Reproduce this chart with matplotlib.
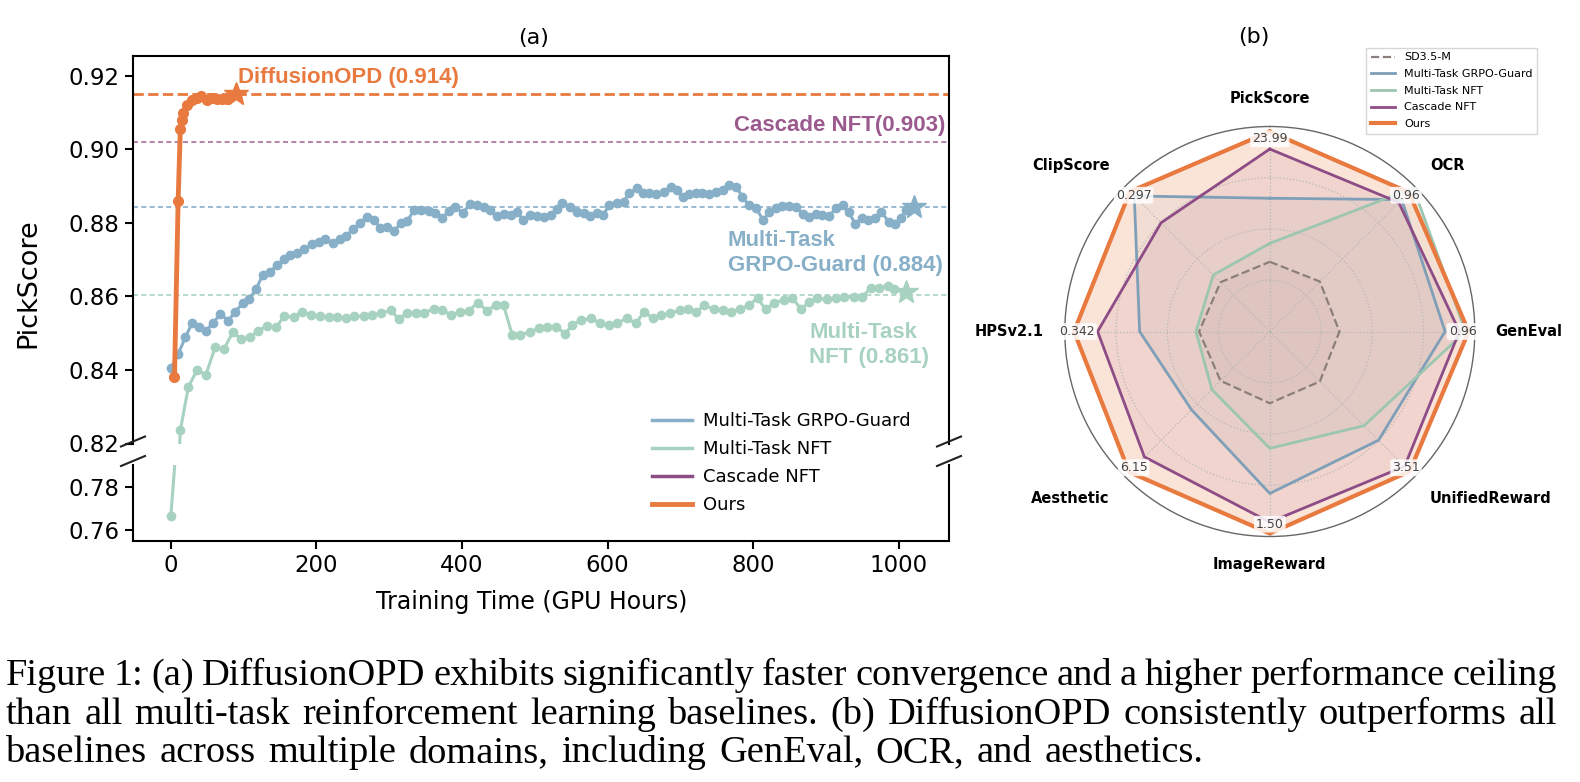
import numpy as np
import matplotlib
matplotlib.use("Agg")
import matplotlib.pyplot as plt
from matplotlib.lines import Line2D

W, H = 1580, 782

# ---------------- (a) PickScore vs training time ----------------
ours_x = [5, 10, 13, 15, 17, 22, 29, 36, 42, 49, 56, 63, 70, 77]
ours_y = [0.838, 0.886, 0.9055, 0.908, 0.910, 0.912, 0.9134, 0.914, 0.9145,
          0.9135, 0.914, 0.9138, 0.9136, 0.9138]
ours_star = (90, 0.9149)

grpo_x = [0, 10, 20, 29, 38, 48, 58, 68, 79, 88,
          99, 107, 117, 126, 136, 146, 156, 164, 173, 183,
          194, 203, 212, 223, 232, 241, 250, 260, 269, 279,
          288, 297, 307, 316, 325, 334, 344, 354, 363, 373,
          382, 391, 401, 411, 421, 430, 439, 448, 457, 467,
          476, 484, 494, 503, 512, 522, 530, 538, 549, 558,
          567, 576, 586, 594, 602, 613, 622, 629, 640, 648,
          657, 666, 677, 687, 696, 704, 712, 721, 730, 739,
          749, 758, 767, 777, 785, 794, 804, 814, 822, 831,
          840, 849, 859, 868, 877, 886, 895, 904, 914, 923,
          931, 940, 949, 958, 967, 976, 986, 995, 1003, 1010]
grpo_y = [0.8404, 0.8443, 0.8489, 0.8527, 0.8516, 0.8506, 0.8528, 0.8552, 0.8534, 0.8558,
          0.8581, 0.8592, 0.8619, 0.8658, 0.8667, 0.8685, 0.8703, 0.8712, 0.8717, 0.8728,
          0.8742, 0.8748, 0.8755, 0.8744, 0.8755, 0.8764, 0.8782, 0.8800, 0.8816, 0.8809,
          0.8785, 0.8789, 0.8778, 0.8800, 0.8805, 0.8835, 0.8836, 0.8833, 0.8826, 0.8812,
          0.8833, 0.8844, 0.8827, 0.8851, 0.8848, 0.8842, 0.8835, 0.8818, 0.8825, 0.8821,
          0.8830, 0.8807, 0.8820, 0.8818, 0.8815, 0.8821, 0.8838, 0.8853, 0.8844, 0.8830,
          0.8827, 0.8819, 0.8826, 0.8821, 0.8848, 0.8853, 0.8857, 0.8880, 0.8894, 0.8882,
          0.8880, 0.8878, 0.8884, 0.8898, 0.8889, 0.8869, 0.8878, 0.8882, 0.8880, 0.8878,
          0.8884, 0.8889, 0.8903, 0.8898, 0.8871, 0.8848, 0.8839, 0.8807, 0.8830, 0.8839,
          0.8845, 0.8845, 0.8842, 0.8824, 0.8816, 0.8824, 0.8821, 0.8819, 0.8839, 0.8848,
          0.8830, 0.8798, 0.8812, 0.8809, 0.8812, 0.8830, 0.8803, 0.8797, 0.8812, 0.8835]
grpo_star = (1021, 0.8844)

nft_x = [0, 13, 24, 36, 48, 61, 73, 85, 97, 109,
         120, 132, 145, 156, 169, 180, 193, 205, 217, 228,
         241, 252, 265, 276, 289, 302, 313, 324, 337, 348,
         361, 373, 385, 397, 409, 422, 434, 446, 457, 469,
         480, 494, 506, 517, 529, 542, 551, 563, 577, 590,
         602, 613, 626, 639, 650, 663, 674, 686, 700, 710,
         722, 733, 746, 758, 769, 782, 794, 806, 817, 829,
         842, 854, 866, 877, 888, 901, 914, 925, 938, 950,
         962, 973, 985, 994]
nft_y = [0.7666, 0.8236, 0.8353, 0.8400, 0.8386, 0.8463, 0.8457, 0.8502, 0.8484, 0.8490,
         0.8506, 0.8520, 0.8517, 0.8547, 0.8544, 0.8558, 0.8549, 0.8546, 0.8543, 0.8543,
         0.8540, 0.8546, 0.8546, 0.8550, 0.8554, 0.8563, 0.8538, 0.8555, 0.8554, 0.8555,
         0.8567, 0.8563, 0.8549, 0.8558, 0.8561, 0.8583, 0.8561, 0.8576, 0.8576, 0.8495,
         0.8495, 0.8504, 0.8513, 0.8517, 0.8517, 0.8499, 0.8522, 0.8535, 0.8540, 0.8527,
         0.8522, 0.8527, 0.8540, 0.8527, 0.8558, 0.8540, 0.8549, 0.8554, 0.8563, 0.8567,
         0.8558, 0.8576, 0.8565, 0.8563, 0.8558, 0.8565, 0.8576, 0.8595, 0.8565, 0.8583,
         0.8590, 0.8595, 0.8565, 0.8585, 0.8595, 0.8592, 0.8595, 0.8599, 0.8599, 0.8599,
         0.8624, 0.8622, 0.8628, 0.8619]
nft_star = (1010, 0.8612)

# final scores drawn as dashed reference lines
ref_ours, ref_cascade, ref_grpo, ref_nft = 0.915, 0.902, 0.8842, 0.8605

# ---------------- (b) radar ----------------
radar_labels = ["PickScore", "OCR", "GenEval", "UnifiedReward",
                "ImageReward", "Aesthetic", "HPSv2.1", "ClipScore"]
ours_text = ["23.99", "0.96", "0.96", "3.51", "1.50", "6.15", "0.342", "0.297"]
# normalised radius per axis
r_sd35 = [0.34, 0.345, 0.34, 0.345, 0.35, 0.34, 0.345, 0.34]
r_grpo = [0.65, 0.91, 0.855, 0.75, 0.79, 0.54, 0.635, 0.935]
r_nft = [0.43, 0.99, 0.955, 0.65, 0.57, 0.40, 0.36, 0.39]
r_cascade = [0.89, 0.89, 0.925, 0.93, 0.93, 0.865, 0.84, 0.75]
r_ours = [0.975, 0.96, 0.97, 0.965, 0.985, 0.97, 0.955, 0.965]

caption_lines = [
    "Figure 1: (a) DiffusionOPD exhibits significantly faster convergence and a higher performance ceiling",
    "than all multi-task reinforcement learning baselines. (b) DiffusionOPD consistently outperforms all",
    "baselines across multiple domains, including GenEval, OCR, and aesthetics.",
]

C_OURS = "#E8793F"
C_GRPO = "#87AFC8"
C_NFT = "#A8D2C0"
C_CAS = "#8E4C86"
C_CAS_TXT = "#9B5A8E"
C_SD = "#8a7f7a"

plt.rcParams["font.family"] = ["DejaVu Sans"]
fig = plt.figure(figsize=(W / 100, H / 100), dpi=100)

left, right = 133, 949
ax_top = fig.add_axes([left / W, 1 - 443.5 / H, (right - left) / W, (443.5 - 55.5) / H])
ax_bot = fig.add_axes([left / W, 1 - 541 / H, (right - left) / W, (541 - 465) / H])

for ax in (ax_top, ax_bot):
    ax.axhline(ref_ours, color=C_OURS, ls="--", lw=2.0, zorder=1)
    ax.axhline(ref_cascade, color=C_CAS, ls=(0, (3, 2)), lw=1.2, alpha=0.8, zorder=1)
    ax.axhline(ref_grpo, color=C_GRPO, ls=(0, (3, 2)), lw=1.2, zorder=1)
    ax.axhline(ref_nft, color=C_NFT, ls=(0, (3, 2)), lw=1.2, zorder=1)
    ax.plot(grpo_x, grpo_y, "-o", color=C_GRPO, lw=2.2, ms=6, zorder=3)
    ax.plot(nft_x, nft_y, "-o", color=C_NFT, lw=2.2, ms=6, zorder=3)
    ax.plot(ours_x, ours_y, "-o", color=C_OURS, lw=3.5, ms=7, zorder=5)
    ax.plot(*grpo_star, marker="*", color=C_GRPO, ms=18, zorder=4)
    ax.plot(*nft_star, marker="*", color=C_NFT, ms=18, zorder=4)
    ax.plot(*ours_star, marker="*", color=C_OURS, ms=18, zorder=6)
    ax.set_xlim(-52, 1069)
    for s in ax.spines.values():
        s.set_linewidth(1.5)
    ax.tick_params(labelsize=16.5, width=1.5, length=6)

ax_top.set_ylim(0.82, 0.9255)
ax_top.set_yticks([0.82, 0.84, 0.86, 0.88, 0.90, 0.92])
ax_top.spines["bottom"].set_visible(False)
ax_top.tick_params(axis="x", bottom=False, labelbottom=False)

ax_bot.set_ylim(0.755, 0.79)
ax_bot.set_yticks([0.76, 0.78])
ax_bot.spines["top"].set_visible(False)
ax_bot.set_xticks([0, 200, 400, 600, 800, 1000])

# break marks
for xc in (left, right):
    for yc in (441.5, 461):
        fig.add_artist(Line2D([(xc - 12) / W, (xc + 12) / W],
                              [1 - (yc + 5) / H, 1 - (yc - 5) / H],
                              transform=fig.transFigure, color="#222222", lw=1.5))

ann = dict(fontsize=16, fontweight="bold", family="Liberation Sans")
ax_top.text(92, 0.9195, "DiffusionOPD (0.914)", color=C_OURS, va="center", ha="left", **ann)
ax_top.text(1064, 0.9065, "Cascade NFT(0.903)", color=C_CAS_TXT, va="center", ha="right", **ann)
ax_top.text(765, 0.8717, "Multi-Task\nGRPO-Guard (0.884)", color=C_GRPO, va="center",
            ha="left", linespacing=1.25, **ann)
ax_top.text(877, 0.8468, "Multi-Task\nNFT (0.861)", color=C_NFT, va="center",
            ha="left", linespacing=1.25, **ann)

fig.text(28 / W, 1 - 283 / H, "PickScore", rotation=90, fontsize=19.5, ha="center", va="center")
fig.text(532 / W, 1 - 602 / H, "Training Time (GPU Hours)", fontsize=17, ha="center", va="center")
fig.text(534 / W, 1 - 38 / H, "(a)", fontsize=16, ha="center", va="center")

leg_a = [Line2D([], [], color=C_GRPO, lw=2.5), Line2D([], [], color=C_NFT, lw=2.5),
         Line2D([], [], color=C_CAS, lw=2.5), Line2D([], [], color=C_OURS, lw=3.5)]
fig.legend(leg_a, ["Multi-Task GRPO-Guard", "Multi-Task NFT", "Cascade NFT", "Ours"],
           loc="center left", bbox_to_anchor=(652 / W, 1 - 463 / H), frameon=False,
           fontsize=13, handlelength=2.2, handletextpad=0.6, labelspacing=0.55,
           borderpad=0, borderaxespad=0)

# ---------------- radar ----------------
cx, cy, R = 1269.8, 331.5, 205
axr = fig.add_axes([(cx - R) / W, 1 - (cy + R) / H, 2 * R / W, 2 * R / H], polar=True)
axr.set_theta_offset(np.pi / 2)
axr.set_theta_direction(-1)
n = len(radar_labels)
theta = np.arange(n) * 2 * np.pi / n
axr.set_xticks(theta)
axr.set_xticklabels([])
axr.set_yticks([0.25, 0.5, 0.75])
axr.set_yticklabels([])
axr.set_ylim(0, 1)
axr.grid(True, color="#b8b8b8", ls=":", lw=0.9)
axr.spines["polar"].set_color("#666666")
axr.spines["polar"].set_linewidth(1.0)
axr.tick_params(length=0)

th = np.append(theta, theta[0])
series = [(r_sd35, C_SD, "--", 1.6, 0.08, "SD3.5-M"),
          (r_grpo, "#7F9FB8", "-", 2.0, 0.08, "Multi-Task GRPO-Guard"),
          (r_nft, "#9CC6B0", "-", 2.0, 0.08, "Multi-Task NFT"),
          (r_cascade, C_CAS, "-", 2.0, 0.11, "Cascade NFT"),
          (r_ours, C_OURS, "-", 3.0, 0.2, "Ours")]
for vals, col, ls, lw, fa, lab in series:
    rr = np.append(vals, vals[0])
    axr.fill(th, rr, color=col if lab != "SD3.5-M" else "#9a8f8a", alpha=fa, lw=0)
    axr.plot(th, rr, color=col, ls=ls, lw=lw, label=lab)

for t, txt in zip(theta, ours_text):
    axr.text(t, 0.94, txt, ha="center", va="center", fontsize=9, color="#444444",
             bbox=dict(boxstyle="round,pad=0.15", fc="white", ec="none", alpha=0.85), zorder=10)

lab_pos = [(0, 1.137, "center"), (43.9, 1.126, "left"), (90, 1.102, "left"),
           (136.2, 1.127, "left"), (180, 1.139, "center"), (223.8, 1.127, "right"),
           (270, 1.105, "right"), (316.1, 1.126, "right")]
for name, (ang, rad, ha) in zip(radar_labels, lab_pos):
    axr.text(np.deg2rad(ang), rad, name, ha=ha, va="center", fontsize=10.5,
             fontweight="bold", clip_on=False)

fig.text(1254 / W, 1 - 37 / H, "(b)", fontsize=16, ha="center", va="center")
h, l = axr.get_legend_handles_labels()
fig.legend(h, l, loc="upper right", bbox_to_anchor=(1537 / W, 1 - 48 / H), fontsize=8,
           frameon=True, edgecolor="#cccccc", fancybox=False, borderaxespad=0,
           handlelength=2.2, labelspacing=0.6)

# ---------------- caption (justified) ----------------
cap_fs = 27.6
renderer = fig.canvas.get_renderer()
baselines = [685, 723.5, 762]
x0, x1 = 6, 1557
last_end = 1204
for i, (line, yb) in enumerate(zip(caption_lines, baselines)):
    words = line.split(" ")
    tt = [fig.text(0, 1 - yb / H, w, fontsize=cap_fs, family="Liberation Serif",
                   va="baseline", ha="left") for w in words]
    widths = [t.get_window_extent(renderer).width for t in tt]
    end = x1 if i < len(caption_lines) - 1 else last_end
    gap = (end - x0 - sum(widths)) / (len(words) - 1)
    x = x0
    for t, w in zip(tt, widths):
        t.set_x(x / W)
        x += w + gap

fig.savefig("out.png", dpi=100)
